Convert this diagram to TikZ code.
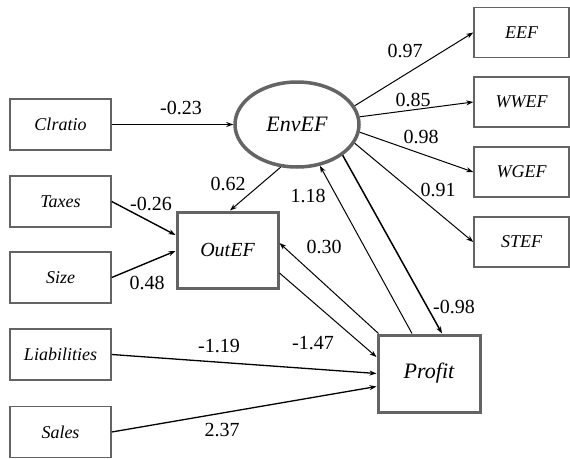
\documentclass[tikz,border=0pt]{standalone}
\usepackage{fontspec}
\newfontfamily\serf{Liberation Serif}
\usetikzlibrary{arrows.meta,calc,shapes.geometric}
\definecolor{boxgray}{RGB}{100,100,100}
\tikzset{
  thinbox/.style={draw=boxgray,line width=1.5pt,fill=white,minimum width=101pt,minimum height=51pt,inner sep=0pt,font=\fontsize{18}{20}\selectfont},
  rbox/.style={thinbox,minimum width=95pt,minimum height=50pt},
  thickbox/.style={draw=boxgray,line width=3pt,fill=white,inner sep=0pt},
  lab/.style={inner sep=0pt,font=\fontsize{20}{24}\selectfont},
  arr/.style={draw=black,line width=1pt,-{Stealth[length=7pt,width=5pt]}},
}
\begin{document}
\begin{tikzpicture}[x=1pt,y=-1pt]
\useasboundingbox (0,0) rectangle (570,458);
% left boxes
\node[thinbox] (clratio) at (60.5,124.5) {\serf\itshape Clratio};
\node[thinbox] (taxes) at (60.5,201.5) {\serf\itshape Taxes};
\node[thinbox] (size) at (60.5,277.5) {\serf\itshape Size};
\node[thinbox] (liab) at (60.5,354.5) {\serf\itshape Liabilities};
\node[thinbox] (sales) at (60.5,432) {\serf\itshape Sales};
% right boxes
\node[rbox] (eef) at (521.5,32.5) {\serf\itshape EEF};
\node[rbox] (wwef) at (521.5,102) {\serf\itshape WWEF};
\node[rbox] (wgef) at (521.5,172) {\serf\itshape WGEF};
\node[rbox] (stef) at (521.5,242) {\serf\itshape STEF};
% latent / central
\node[draw=boxgray,line width=3.5pt,fill=white,ellipse,minimum width=124pt,minimum height=85pt,inner sep=0pt,font=\fontsize{22}{24}\selectfont] (env) at (297,124.5) {\serf\itshape EnvEF};
\node[thickbox,minimum width=101pt,minimum height=76pt,font=\fontsize{20}{22}\selectfont] (outef) at (227.5,250) {\serf\itshape OutEF};
\node[thickbox,minimum width=102pt,minimum height=77pt,font=\fontsize{22}{24}\selectfont] (profit) at (429,373.5) {\serf\itshape Profit};
% connectors
\draw[arr] (clratio.east) -- (env.west);
\draw[arr] (env.18) -- (eef.west);
\draw[arr] (env.7) -- (wwef.west);
\draw[arr] (env.-7.6) -- (wgef.west);
\draw[arr] (env.-18.3) -- (stef.west);
\draw[arr] (env.249.7) -- ($(outef.north)+(2.5,0)$);
\draw[arr,line width=1.4pt] (taxes.east) -- ($(outef.west)+(0,-15)$);
\draw[arr,line width=1.4pt] (size.east) -- ($(outef.west)+(0,1)$);
\draw[arr] ($(profit.north west)+(2,0)$) -- ($(outef.east)+(0,-7)$);
\draw[arr] ($(outef.east)+(0,23)$) -- ($(profit.west)+(0,-16.5)$);
\draw[arr,line width=1.3pt] (liab.east) -- (profit.west);
\draw[arr,line width=1.3pt] (sales.east) -- ($(profit.west)+(0,13)$);
\draw[arr] ($(profit.north)+(-17,0)$) -- (env.-61.5);
\draw[arr,line width=1.5pt] (env.-34) -- ($(profit.north)+(13,0)$);
% labels
\node[lab] (t1) at (181,108) {\serf -0.23};
\node[lab] (t2) at (228,184) {\serf 0.62};
\node[lab] (t3) at (151,204) {\serf -0.26};
\node[lab] (t4) at (147,283) {\serf 0.48};
\node[lab] (t5) at (219,346) {\serf -1.19};
\node[lab] (t6) at (222,430) {\serf 2.37};
\node[lab] (t7) at (405,51) {\serf 0.97};
\node[lab] (t8) at (413,100) {\serf 0.85};
\node[lab] (t9) at (421,137) {\serf 0.98};
\node[lab] (t10) at (438,190) {\serf 0.91};
\node[lab] (t11) at (308,196) {\serf 1.18};
\node[lab] (t12) at (324,247) {\serf 0.30};
\node[lab] (t13) at (454,307) {\serf -0.98};
\node[lab] (t14) at (313,343) {\serf -1.47};
\end{tikzpicture}
\end{document}
